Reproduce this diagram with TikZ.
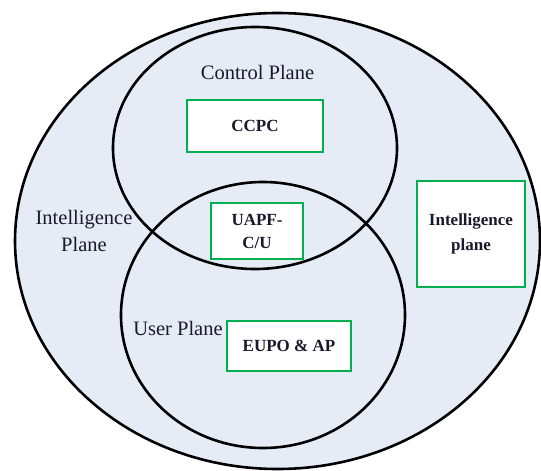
\documentclass[tikz,border=0pt]{standalone}
\usepackage{fontspec}
\setmainfont{Liberation Serif}
\newfontfamily\timesfont{Liberation Serif}
\usetikzlibrary{shapes.geometric}
\definecolor{planefill}{RGB}{230,236,246}
\definecolor{boxgreen}{RGB}{0,176,80}
\definecolor{ink}{RGB}{25,25,45}
\begin{document}
\begin{tikzpicture}[x=1pt,y=-1pt,
  plane/.style={ellipse,draw=black,line width=2.6pt,inner sep=0pt},
  gbox/.style={rectangle,draw=boxgreen,line width=2.8pt,fill=white,inner sep=0pt,align=center,text=ink,font=\timesfont\fontsize{17}{23}\selectfont\bfseries},
  lbl/.style={align=center,inner sep=0pt,text=ink,font=\timesfont\fontsize{20.5}{27}\selectfont}]
\useasboundingbox (0,0) rectangle (541,471);
\clip (0,0) rectangle (541,471);
% planes
\node[plane,fill=planefill,minimum width=525pt,minimum height=456pt] (intel) at (277.5,241) {};
\node[plane,minimum width=284pt,minimum height=242pt] (control) at (255,148) {};
\node[plane,minimum width=284pt,minimum height=266pt] (user) at (263,315) {};
% labels
\node[lbl] (lcontrol) at (257.5,72.5) {Control Plane};
\node[lbl] (lintel) at (84,230.5) {Intelligence\\Plane};
\node[lbl] (luser) at (178,328.5) {User Plane};
% boxes
\node[gbox,minimum width=136pt,minimum height=52pt] (ccpc) at (255,126) {CCPC};
\node[gbox,minimum width=92pt,minimum height=56pt] (uapf) at (257,231) {UAPF-\\C/U};
\node[gbox,minimum width=108pt,minimum height=106pt,font=\timesfont\fontsize{17}{25}\selectfont\bfseries] (ibox) at (471,234) {Intelligence\\plane};
\node[gbox,minimum width=124pt,minimum height=50pt] (eupo) at (289,346) {EUPO \& AP};
\end{tikzpicture}
\end{document}
